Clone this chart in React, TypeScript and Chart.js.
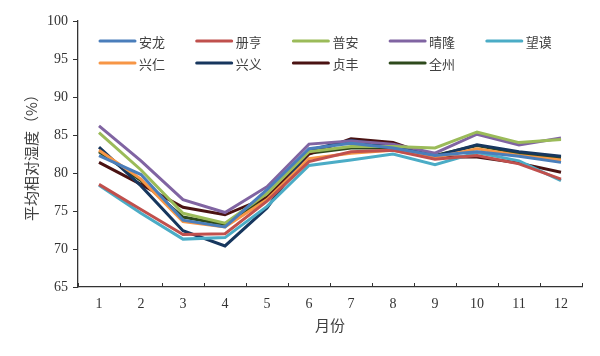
import React, { useEffect, useRef } from "react";
import { Chart, registerables } from "chart.js";

Chart.register(...registerables);

const months = ["1", "2", "3", "4", "5", "6", "7", "8", "9", "10", "11", "12"];
const yTicks = [65, 70, 75, 80, 85, 90, 95, 100];

const seriesNames = ["安龙", "册亨", "普安", "晴隆", "望谟", "兴仁", "兴义", "贞丰", "全州"];
const seriesColors = ["#4A7EBB", "#C0504D", "#9BBB59", "#8064A2", "#4BACC6", "#F79646", "#17375E", "#4A1212", "#2E4A1C"];

const anlong = [82.3, 79.8, 73.8, 72.9, 77.8, 83.2, 83.9, 83.3, 82.3, 82.8, 82.2, 81.4];
const ceheng = [78.5, 75.2, 71.9, 72.0, 76.3, 81.5, 82.8, 83.0, 81.8, 82.3, 81.2, 79.2];
const puan = [85.3, 80.4, 74.7, 73.4, 77.3, 82.8, 83.5, 83.5, 83.3, 85.4, 84.0, 84.4];
const qinglong = [86.2, 81.6, 76.5, 74.8, 78.2, 83.8, 84.2, 83.8, 82.6, 85.1, 83.7, 84.6];
const wangmo = [78.4, 74.7, 71.3, 71.5, 75.6, 81.0, 81.7, 82.5, 81.1, 82.7, 81.6, 79.0];
const xingren = [83.0, 79.2, 73.6, 72.9, 76.5, 81.9, 82.6, 83.0, 82.0, 83.2, 82.3, 81.7];
const xingyi = [83.4, 78.3, 72.4, 70.4, 75.4, 83.0, 84.3, 83.5, 82.2, 83.7, 82.8, 82.2];
const zhenfeng = [81.4, 78.5, 75.5, 74.5, 76.8, 82.5, 84.5, 84.0, 82.1, 82.1, 81.3, 80.1];
const quanzhou = [82.8, 79.0, 74.2, 73.2, 76.8, 82.6, 83.3, 83.3, 82.3, 83.6, 82.6, 82.0];

const seriesValues = [anlong, ceheng, puan, qinglong, wangmo, xingren, xingyi, zhenfeng, quanzhou];

const AXIS_COLOR = "#333333";
const TEXT_COLOR = "#404040";
const NUM_FONT = "'Liberation Serif', 'Times New Roman', serif";
const CJK_FONT = "'Noto Sans CJK SC', sans-serif";

const innerTicksAndLegend = {
  id: "innerTicksAndLegend",
  afterDraw(chart: any) {
    const { ctx, chartArea, scales } = chart;
    const xs = scales.x;
    ctx.save();
    // x-axis inner tick marks at category boundaries
    ctx.strokeStyle = AXIS_COLOR;
    ctx.lineWidth = 1;
    const n = months.length;
    for (let i = 0; i <= n; i++) {
      let px;
      if (i === 0) px = chartArea.left;
      else if (i === n) px = chartArea.right;
      else px = (xs.getPixelForValue(i - 1) + xs.getPixelForValue(i)) / 2;
      ctx.beginPath();
      ctx.moveTo(Math.round(px) + 0.5, chartArea.bottom);
      ctx.lineTo(Math.round(px) + 0.5, chartArea.bottom - 4);
      ctx.stroke();
    }
    // legend inside plot area
    const colW = 96.7;
    const rowH = 22;
    const x0 = chartArea.left + 22;
    const y0 = chartArea.top + 20;
    ctx.font = "13px " + CJK_FONT;
    ctx.textBaseline = "middle";
    ctx.textAlign = "left";
    chart.data.datasets.forEach((ds: any, i: number) => {
      const col = i % 5;
      const row = Math.floor(i / 5);
      const x = x0 + col * colW;
      const y = y0 + row * rowH;
      ctx.strokeStyle = ds.borderColor;
      ctx.lineWidth = 3;
      ctx.lineCap = "round";
      ctx.beginPath();
      ctx.moveTo(x, y);
      ctx.lineTo(x + 35, y);
      ctx.stroke();
      ctx.fillStyle = TEXT_COLOR;
      ctx.fillText(ds.label, x + 39, y + 1);
    });
    ctx.restore();
  },
};

export default function App() {
  const canvasRef = useRef<HTMLCanvasElement | null>(null);

  useEffect(() => {
    const canvas = canvasRef.current;
    if (!canvas) return;
    const chart = new Chart(canvas, {
      type: "line",
      data: {
        labels: months,
        datasets: seriesNames.map((name, i) => ({
          label: name,
          data: seriesValues[i],
          borderColor: seriesColors[i],
          backgroundColor: seriesColors[i],
          borderWidth: 3,
          pointRadius: 0,
          tension: 0,
          fill: false,
        })),
      },
      options: {
        animation: false,
        responsive: false,
        maintainAspectRatio: false,
        layout: { padding: { top: 21, right: 18, left: 0, bottom: 0 } },
        plugins: {
          legend: { display: false },
          tooltip: { enabled: false },
        },
        scales: {
          x: {
            type: "category",
            offset: true,
            grid: { display: false, drawTicks: false },
            border: { display: true, color: AXIS_COLOR, width: 1.3 },
            ticks: {
              color: AXIS_COLOR,
              font: { family: NUM_FONT, size: 14 },
              padding: 9,
              maxRotation: 0,
              autoSkip: false,
            },
            title: {
              display: true,
              text: "月份",
              color: TEXT_COLOR,
              font: { family: CJK_FONT, size: 15 },
              padding: { top: 0, bottom: 22 },
            },
            afterFit(scale: any) {
              scale.height = 69;
            },
          },
          y: {
            min: 65,
            max: 100,
            afterBuildTicks(scale: any) {
              scale.ticks = yTicks.map((v) => ({ value: v }));
            },
            grid: {
              drawOnChartArea: false,
              drawTicks: true,
              tickLength: 5,
              color: AXIS_COLOR,
              lineWidth: 1,
            },
            border: { display: true, color: AXIS_COLOR, width: 1.3 },
            ticks: {
              color: AXIS_COLOR,
              font: { family: NUM_FONT, size: 14 },
              padding: 5,
            },
            title: {
              display: true,
              text: "平均相对湿度（%）",
              color: TEXT_COLOR,
              font: { family: CJK_FONT, size: 15 },
              padding: { top: 22, bottom: 0 },
            },
            afterFit(scale: any) {
              scale.width = 78;
            },
          },
        },
      },
      plugins: [innerTicksAndLegend],
    });
    return () => chart.destroy();
  }, []);

  return (
    <div style={{ position: "fixed", left: 0, top: 0, width: 600, height: 356, background: "#ffffff" }}>
      <canvas ref={canvasRef} width={600} height={356} style={{ display: "block" }} />
    </div>
  );
}
